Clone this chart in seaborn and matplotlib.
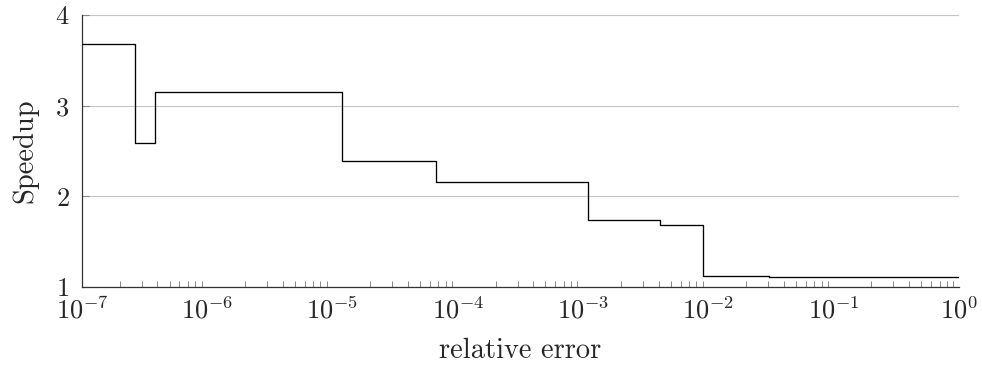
import matplotlib
matplotlib.use("Agg")
import matplotlib.pyplot as plt
import matplotlib.ticker as mticker
import numpy as np
import pandas as pd
import seaborn as sns

# Speedup as a function of the tolerated relative error (step function)
rel_error = [1e-7, 2.65e-7, 3.8e-7, 1.18e-5, 6.7e-5, 1.1e-3, 4.1e-3, 9.1e-3, 3.05e-2, 1.0]
speedup = [3.68, 2.59, 3.15, 2.39, 2.155, 1.736, 1.68, 1.125, 1.115, 1.115]
y_ticks = [1, 2, 3, 4]
x_decades = [-7, -6, -5, -4, -3, -2, -1, 0]

df = pd.DataFrame({"relative error": rel_error, "Speedup": speedup})

sns.set_theme(style="white")
plt.rcParams["font.family"] = ["cmr10", "DejaVu Serif"]
plt.rcParams["mathtext.fontset"] = "cm"
plt.rcParams["axes.formatter.use_mathtext"] = True
plt.rcParams["axes.unicode_minus"] = True

fig = plt.figure(figsize=(9.82, 3.69), dpi=100)
ax = fig.add_axes([82 / 982, 1 - 287 / 369, (959 - 82) / 982, (287 - 15) / 369])

sns.lineplot(data=df, x="relative error", y="Speedup", ax=ax, color="black",
             linewidth=0.95, drawstyle="steps-post", sort=False, zorder=3)

ax.set_xscale("log")
ax.set_xlim(10.0 ** x_decades[0], 10.0 ** x_decades[-1])
ax.set_ylim(y_ticks[0], y_ticks[-1])

ax.xaxis.set_major_locator(mticker.FixedLocator([10.0 ** d for d in x_decades]))
ax.xaxis.set_minor_locator(mticker.LogLocator(base=10, subs=np.arange(2, 10), numticks=20))
ax.xaxis.set_minor_formatter(mticker.NullFormatter())
ax.set_yticks(y_ticks)

ax.yaxis.grid(True, color="#c4c4c4", linewidth=0.8, zorder=0)
ax.xaxis.grid(False)

for side in ("top", "right"):
    ax.spines[side].set_visible(False)
for side in ("left", "bottom"):
    ax.spines[side].set_color("#333333")
    ax.spines[side].set_linewidth(0.9)

ax.tick_params(axis="x", which="major", direction="in", length=7, width=0.8,
               color="#888888", labelsize=19, pad=7)
ax.tick_params(axis="x", which="minor", direction="in", length=4.5, width=0.7,
               color="#888888", bottom=True)
ax.tick_params(axis="y", which="major", direction="in", length=5, width=0.8,
               color="#888888", labelsize=19, pad=9, left=True)

ax.set_xlabel("relative error", fontsize=20.5, labelpad=10)
ax.set_ylabel("Speedup", fontsize=20.5, labelpad=12)

fig.savefig("out.png", dpi=100)
